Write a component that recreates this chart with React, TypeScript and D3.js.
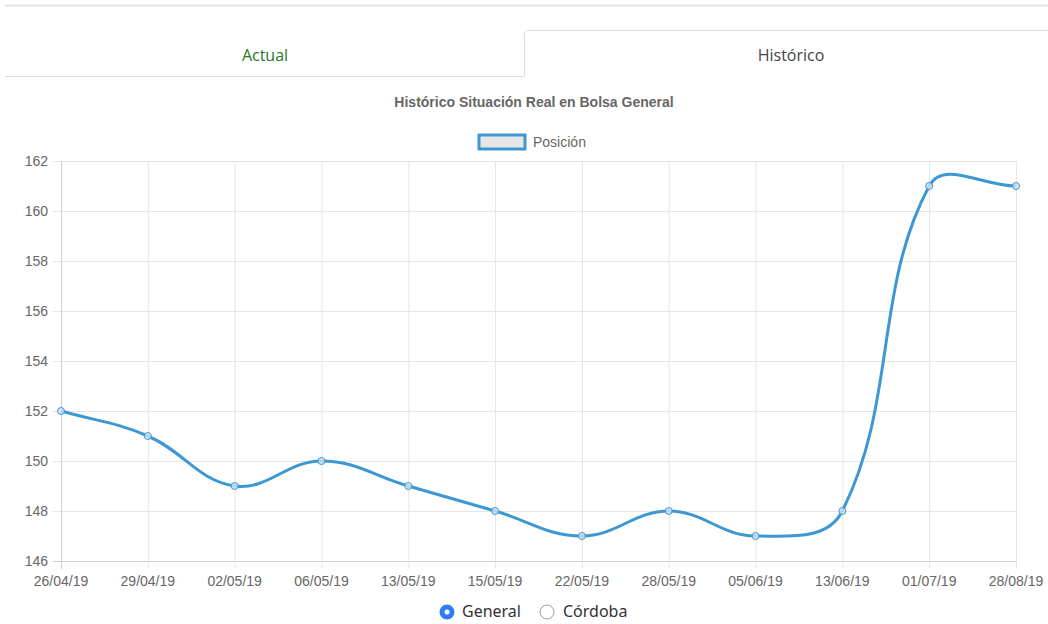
import React from 'react';
import * as d3 from 'd3';

// chart data
const fechas = ['26/04/19', '29/04/19', '02/05/19', '06/05/19', '13/05/19', '15/05/19', '22/05/19', '28/05/19', '05/06/19', '13/06/19', '01/07/19', '28/08/19'];
const posicion = [152, 151, 149, 150, 149, 148, 147, 148, 147, 148, 161, 161];
const yTicks = [146, 148, 150, 152, 154, 156, 158, 160, 162];

const W = 1048;
const H = 624;
const margin = { top: 161, right: 32, bottom: 63, left: 61 };

// Chart.js-style bezier (tension 0.4)
function splinePath(pts: [number, number][], tension = 0.4) {
  const p = d3.path();
  const cps = pts.map((cur, i) => {
    const prev = pts[i - 1] || cur;
    const next = pts[i + 1] || cur;
    const d01 = Math.hypot(cur[0] - prev[0], cur[1] - prev[1]);
    const d12 = Math.hypot(next[0] - cur[0], next[1] - cur[1]);
    let s01 = d01 / (d01 + d12);
    let s12 = d12 / (d01 + d12);
    if (isNaN(s01)) s01 = 0;
    if (isNaN(s12)) s12 = 0;
    const fa = tension * s01;
    const fb = tension * s12;
    return {
      prev: [cur[0] - fa * (next[0] - prev[0]), cur[1] - fa * (next[1] - prev[1])],
      next: [cur[0] + fb * (next[0] - prev[0]), cur[1] + fb * (next[1] - prev[1])],
    };
  });
  pts.forEach((pt, i) => {
    if (i === 0) p.moveTo(pt[0], pt[1]);
    else {
      const a = cps[i - 1].next;
      const b = cps[i].prev;
      p.bezierCurveTo(a[0], a[1], b[0], b[1], pt[0], pt[1]);
    }
  });
  return p.toString();
}

export default function App() {
  const innerW = W - margin.left - margin.right;
  const innerH = H - margin.top - margin.bottom;

  const x = d3.scalePoint<string>().domain(fechas).range([0, innerW]);
  const y = d3.scaleLinear().domain([146, 162]).range([innerH, 0]);

  const pts: [number, number][] = fechas.map((f, i) => [x(f)!, y(posicion[i])]);
  const lineColor = '#3d97d3';
  const grid = '#e5e5e5';
  const labelFont = '"Liberation Sans", Helvetica, Arial, sans-serif';

  return (
    <svg width={W} height={H} style={{ position: 'absolute', left: 0, top: 0 }}>
      <rect width={W} height={H} fill="#fff" />
      {/* tabs */}
      <line x1={5} x2={W} y1={5.5} y2={5.5} stroke="#e3e3e3" strokeWidth={2} />
      <line x1={5} x2={524} y1={76.5} y2={76.5} stroke="#dedede" />
      <path d={`M524.5,76.5 V34 Q524.5,30.5 528,30.5 H${W}`} fill="none" stroke="#dedede" />
      <text x={265} y={61} textAnchor="middle" fontFamily='"Open Sans", sans-serif' fontSize={16} fill="#1e7a2c">Actual</text>
      <text x={791} y={61} textAnchor="middle" fontFamily='"Open Sans", sans-serif' fontSize={16} fill="#444">Histórico</text>

      {/* title */}
      <text x={534} y={107} textAnchor="middle" fontFamily={labelFont} fontSize={14} fontWeight="bold" fill="#666">Histórico Situación Real en Bolsa General</text>

      {/* legend */}
      <rect x={479} y={135} width={46} height={14} fill="#e6e6e6" stroke={lineColor} strokeWidth={3} />
      <text x={533} y={147} fontFamily={labelFont} fontSize={14} fill="#666">Posición</text>

      <g transform={`translate(${margin.left},${margin.top})`}>
        {yTicks.map(t => (
          <g key={t}>
            <line x1={-8} x2={innerW} y1={y(t) + 0.5} y2={y(t) + 0.5} stroke={t === 146 ? '#cfcfcf' : grid} />
            <text x={-13} y={y(t) + 5} textAnchor="end" fontFamily={labelFont} fontSize={14} fill="#666">{t}</text>
          </g>
        ))}
        {fechas.map(f => (
          <g key={f}>
            <line x1={x(f)! + 0.5} x2={x(f)! + 0.5} y1={0} y2={innerH + 8} stroke={f === fechas[0] ? '#cfcfcf' : grid} />
            <text x={x(f)!} y={innerH + 25} textAnchor="middle" fontFamily={labelFont} fontSize={14} fill="#666">{f}</text>
          </g>
        ))}
        <path d={splinePath(pts)} fill="none" stroke={lineColor} strokeWidth={3} />
        {pts.map((p, i) => (
          <circle key={i} cx={p[0]} cy={p[1]} r={3.5} fill="rgba(210,225,240,0.8)" stroke={lineColor} strokeWidth={1} />
        ))}
      </g>

      {/* radios */}
      <circle cx={447} cy={612} r={7.5} fill="#2f7df6" />
      <circle cx={447} cy={612} r={2.5} fill="#fff" />
      <text x={462} y={617} fontFamily='"Noto Sans", sans-serif' fontSize={16} fill="#333">General</text>
      <circle cx={547} cy={612} r={7} fill="#fff" stroke="#999" />
      <text x={563} y={617} fontFamily='"Noto Sans", sans-serif' fontSize={16} fill="#333">Córdoba</text>
    </svg>
  );
}
